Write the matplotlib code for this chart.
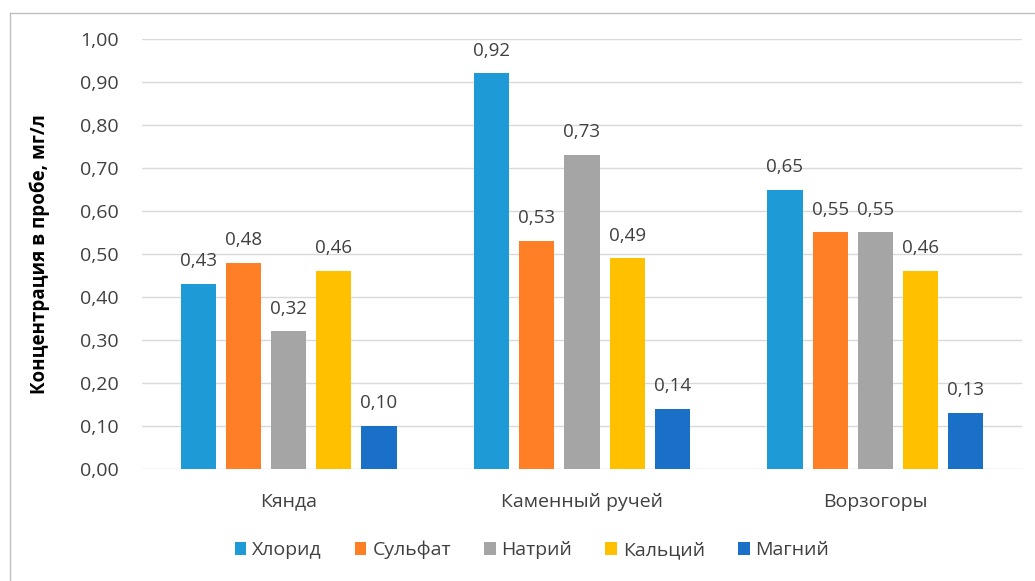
import numpy as np
import matplotlib.pyplot as plt

plt.rcParams['font.family'] = ['Open Sans', 'DejaVu Sans']

sites = ['Кянда', 'Каменный ручей', 'Ворзогоры']
ions = ['Хлорид', 'Сульфат', 'Натрий', 'Кальций', 'Магний']
chloride = [0.43, 0.92, 0.65]
sulfate = [0.48, 0.53, 0.55]
sodium = [0.32, 0.73, 0.55]
calcium = [0.46, 0.49, 0.46]
magnesium = [0.10, 0.14, 0.13]
colors = ['#1E9AD6', '#FF7F27', '#A5A5A5', '#FFC000', '#1A6FC6']
yticks = np.arange(0, 1.01, 0.1)

series = [chloride, sulfate, sodium, calcium, magnesium]

fig = plt.figure(figsize=(10.35, 5.81), dpi=100)
ax = fig.add_axes([142/1035, 1 - 469/581, 880/1035, 430/581])

x = np.arange(len(sites))
step = 0.154
width = 0.12
for i, (name, vals, c) in enumerate(zip(ions, series, colors)):
    pos = x + (i - 2) * step
    ax.bar(pos, vals, width, color=c, label=name, zorder=3)
    for xp, v in zip(pos, vals):
        ax.text(xp, v + 0.032, f'{v:.2f}'.replace('.', ','), ha='center', va='bottom',
                fontsize=13.5, color='#404040')

ax.set_xlim(-0.5, 2.5)
ax.set_ylim(0, 1.0)
ax.set_yticks(yticks)
ax.set_yticklabels([f'{t:.2f}'.replace('.', ',') for t in yticks], fontsize=14, color='#404040')
ax.set_xticks(x)
ax.set_xticklabels(sites, fontsize=14, color='#404040')
ax.tick_params(axis='x', length=0, pad=17)
ax.tick_params(axis='y', length=0, pad=17)
ax.grid(axis='y', color='#D9D9D9', linewidth=1, zorder=0)
for s in ax.spines.values():
    s.set_visible(False)
ax.set_ylabel('Концентрация в пробе, мг/л', fontsize=13.5, fontweight='bold')
ax.yaxis.set_label_coords(-92/880, 0.5)

leg = fig.legend(loc='center', bbox_to_anchor=(532/1035, 1 - 550/581), ncol=5, frameon=False,
                 fontsize=14, handlelength=0.6, handleheight=0.6, handletextpad=0.3,
                 columnspacing=1.7)
for t in leg.get_texts():
    t.set_color('#404040')

# chart border
fig.add_artist(plt.Line2D([10/1035, 10/1035], [0, 1 - 13/581], color='#BFBFBF', lw=1))
fig.add_artist(plt.Line2D([10/1035, 1], [1 - 13/581, 1 - 13/581], color='#BFBFBF', lw=1))

fig.savefig('out.png', dpi=100)
